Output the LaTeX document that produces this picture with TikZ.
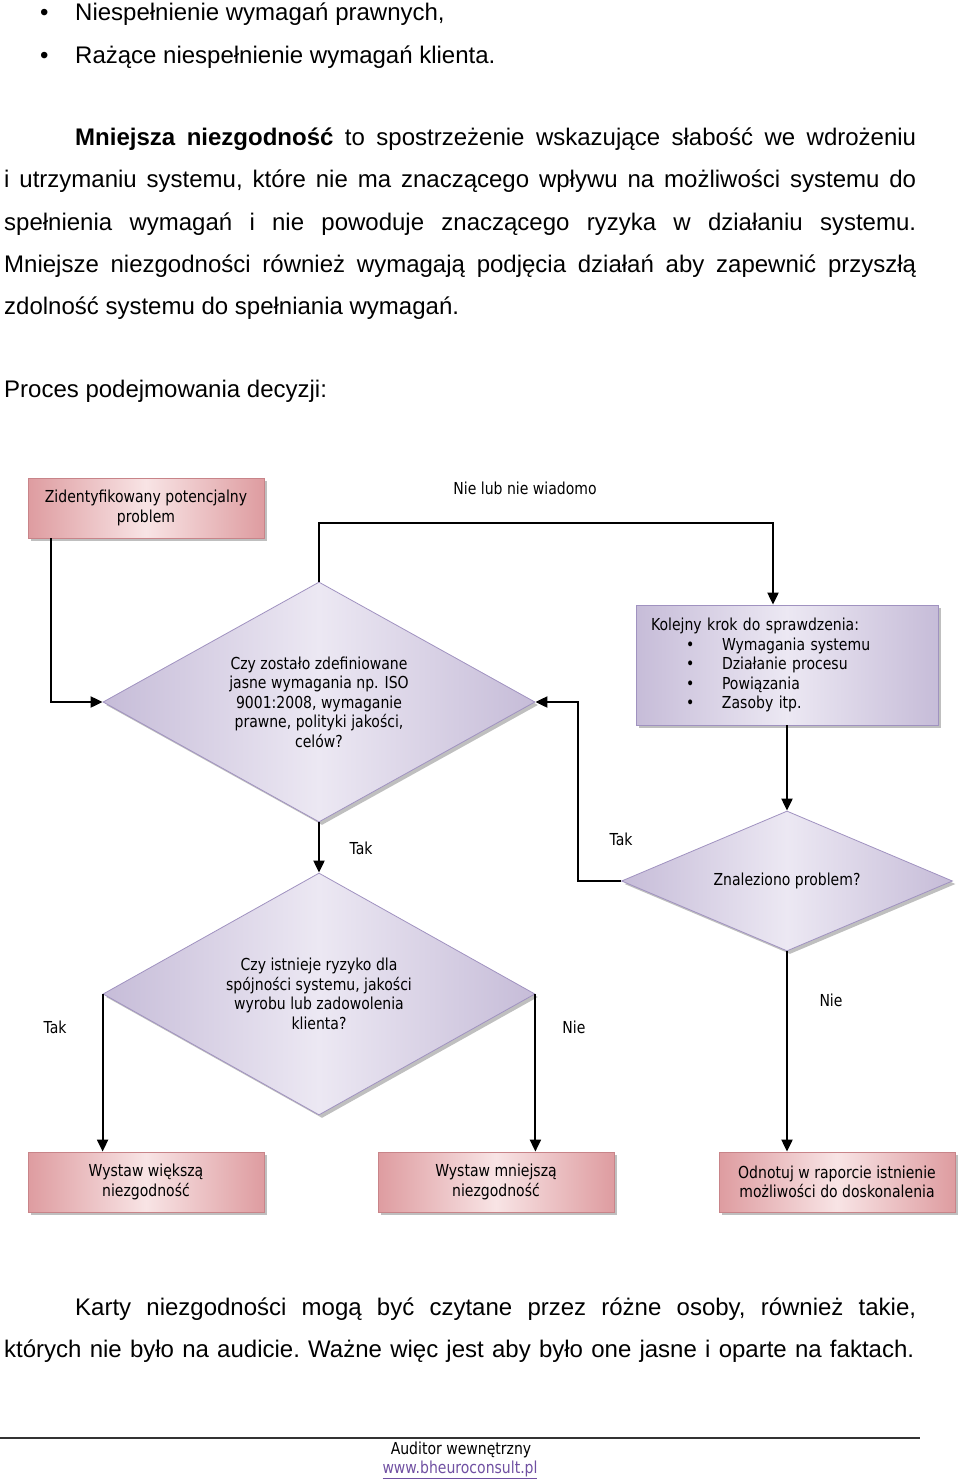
\documentclass[tikz,border=0pt]{standalone}
\usepackage{fontspec}
\setmainfont{Liberation Sans}
\newfontfamily\diafont[FakeStretch=0.85]{DejaVu Sans}
\usetikzlibrary{arrows.meta,shapes.geometric,shadows,calc}

\definecolor{pinkdark}{RGB}{222,156,160}
\definecolor{pinklight}{RGB}{248,228,229}
\definecolor{pinkedge}{RGB}{200,132,137}
\definecolor{lavdark}{RGB}{198,188,216}
\definecolor{lavlight}{RGB}{236,232,243}
\definecolor{lavedge}{RGB}{160,146,192}
\definecolor{linkcol}{RGB}{112,80,162}

\def\bodytext{\fontsize{24}{42}\selectfont\frenchspacing}
\def\diatext{\diafont\fontsize{16.5}{19.5}\selectfont}

\tikzset{
  textline/.style={anchor=base west, inner sep=0pt, font=\bodytext},
  boxshadow/.style={drop shadow={shadow xshift=3pt, shadow yshift=-3pt, fill=black!50, opacity=0.5}},
  pinkbox/.style={draw=pinkedge, line width=0.8pt, left color=pinkdark, right color=pinkdark, middle color=pinklight,
    minimum width=236pt, minimum height=60pt, inner sep=2pt, align=center, font=\diatext, boxshadow},
  lavbox/.style={draw=lavedge, line width=0.8pt, left color=lavdark, right color=lavdark, middle color=lavlight,
    font=\diatext, boxshadow},
  decision/.style={lavbox, diamond, aspect=2, inner sep=0pt, align=center},
  conn/.style={line width=2pt, -{Triangle[length=12pt,width=11pt]}},
  lbl/.style={font=\diatext, inner sep=0pt},
}

\begin{document}
\begin{tikzpicture}[x=1pt, y=-1pt]
		%%%%% START %%%%%
		\useasboundingbox (0,0) rectangle (960,1482);
		\fill[white] (0,0) rectangle (960,1482);
		
		% text above the chart
		\node[textline] at (40,21) {\textbullet};
		\node[textline] at (75,21) {Niespełnienie wymagań prawnych,};
		\node[textline] at (40,64) {\textbullet};
		\node[textline] at (75,64) {Rażące niespełnienie wymagań klienta.};
		
		\node[textline] at (75,146) {\makebox[841pt][s]{\textbf{Mniejsza niezgodność} to spostrzeżenie wskazujące słabość we wdrożeniu}};
		\node[textline] at (4,188) {\makebox[912pt][s]{i utrzymaniu systemu, które nie ma znaczącego wpływu na możliwości systemu do}};
		\node[textline] at (4,230) {\makebox[912pt][s]{spełnienia wymagań i nie powoduje znaczącego ryzyka w działaniu systemu.}};
		\node[textline] at (4,272) {\makebox[912pt][s]{Mniejsze niezgodności również wymagają podjęcia działań aby zapewnić przyszłą}};
		\node[textline] at (4,314) {zdolność systemu do spełniania wymagań.};
		
		\node[textline] at (4,397) {Proces podejmowania decyzji:};
		
		% chart
		\node[pinkbox] (problem) at (146,508) {Zidentyfikowany potencjalny\\problem};
		\node[decision, minimum width=432pt, minimum height=240pt] (czyjasne) at (319,702)
			{Czy zostało zdefiniowane\\jasne wymagania np. ISO\\9001:2008, wymaganie\\prawne, polityki jakości,\\celów?};
		\node[lavbox, minimum width=302pt, minimum height=120pt, inner xsep=15pt, text width=272pt, align=left] (kolejny) at (787,665)
			{Kolejny krok do sprawdzenia:\\
			\hspace*{35pt}\makebox[36pt][l]{\textbullet}Wymagania systemu\\
			\hspace*{35pt}\makebox[36pt][l]{\textbullet}Działanie procesu\\
			\hspace*{35pt}\makebox[36pt][l]{\textbullet}Powiązania\\
			\hspace*{35pt}\makebox[36pt][l]{\textbullet}Zasoby itp.};
		\node[decision, minimum width=331pt, minimum height=140pt] (znaleziono) at (787,881) {Znaleziono problem?};
		\node[decision, minimum width=432pt, minimum height=242pt] (ryzyko) at (319,994)
			{Czy istnieje ryzyko dla\\spójności systemu, jakości\\wyrobu lub zadowolenia\\klienta?};
		
		\node[pinkbox] (wieksza) at (146,1182) {Wystaw większą\\niezgodność};
		\node[pinkbox] (mniejsza) at (496,1182) {Wystaw mniejszą\\niezgodność};
		\node[pinkbox] (odnotuj) at (837,1182) {Odnotuj w raporcie istnienie\\możliwości do doskonalenia};
		
		\draw[conn] ([xshift=23pt]problem.south west) |- (czyjasne.west);
		\draw[conn] (czyjasne.north) -- ++(0,-59) -| ([xshift=-14pt]kolejny.north);
		\draw[conn] (kolejny.south) -- (znaleziono.north);
		\draw[conn] (znaleziono.west) -- ++(-43,0) |- (czyjasne.east);
		\draw[conn] (czyjasne.south) -- (ryzyko.north);
		\draw[conn] (ryzyko.west) -- (ryzyko.west |- wieksza.north);
		\draw[conn] (ryzyko.east) -- (ryzyko.east |- mniejsza.north);
		\draw[conn] (znaleziono.south) -- (znaleziono.south |- odnotuj.north);
		
		\node[lbl] (nielub) at (525,488) {Nie lub nie wiadomo};
		\node[lbl] (tak1) at (361,848) {Tak};
		\node[lbl] (tak2) at (621,839) {Tak};
		\node[lbl] (tak3) at (55,1027) {Tak};
		\node[lbl] (nie1) at (574,1027) {Nie};
		\node[lbl] (nie2) at (831,1000) {Nie};
		
		% text below the chart
		\node[textline] at (75,1315) {\makebox[841pt][s]{Karty niezgodności mogą być czytane przez różne osoby, również takie,}};
		\node[textline] at (4,1357) {\makebox[910pt][s]{których nie było na audicie. Ważne więc jest aby było one jasne i oparte na faktach.}};
		
		% footer
		\draw[line width=1.5pt, black!80] (0,1438) -- (920,1438);
		\node[lbl] (auditor) at (461,1450) {Auditor wewnętrzny};
		\node[lbl, text=linkcol] (www) at (460,1470) {\underline{www.bheuroconsult.pl}};
		
		%%%%% END %%%%%
\end{tikzpicture}
\end{document}
